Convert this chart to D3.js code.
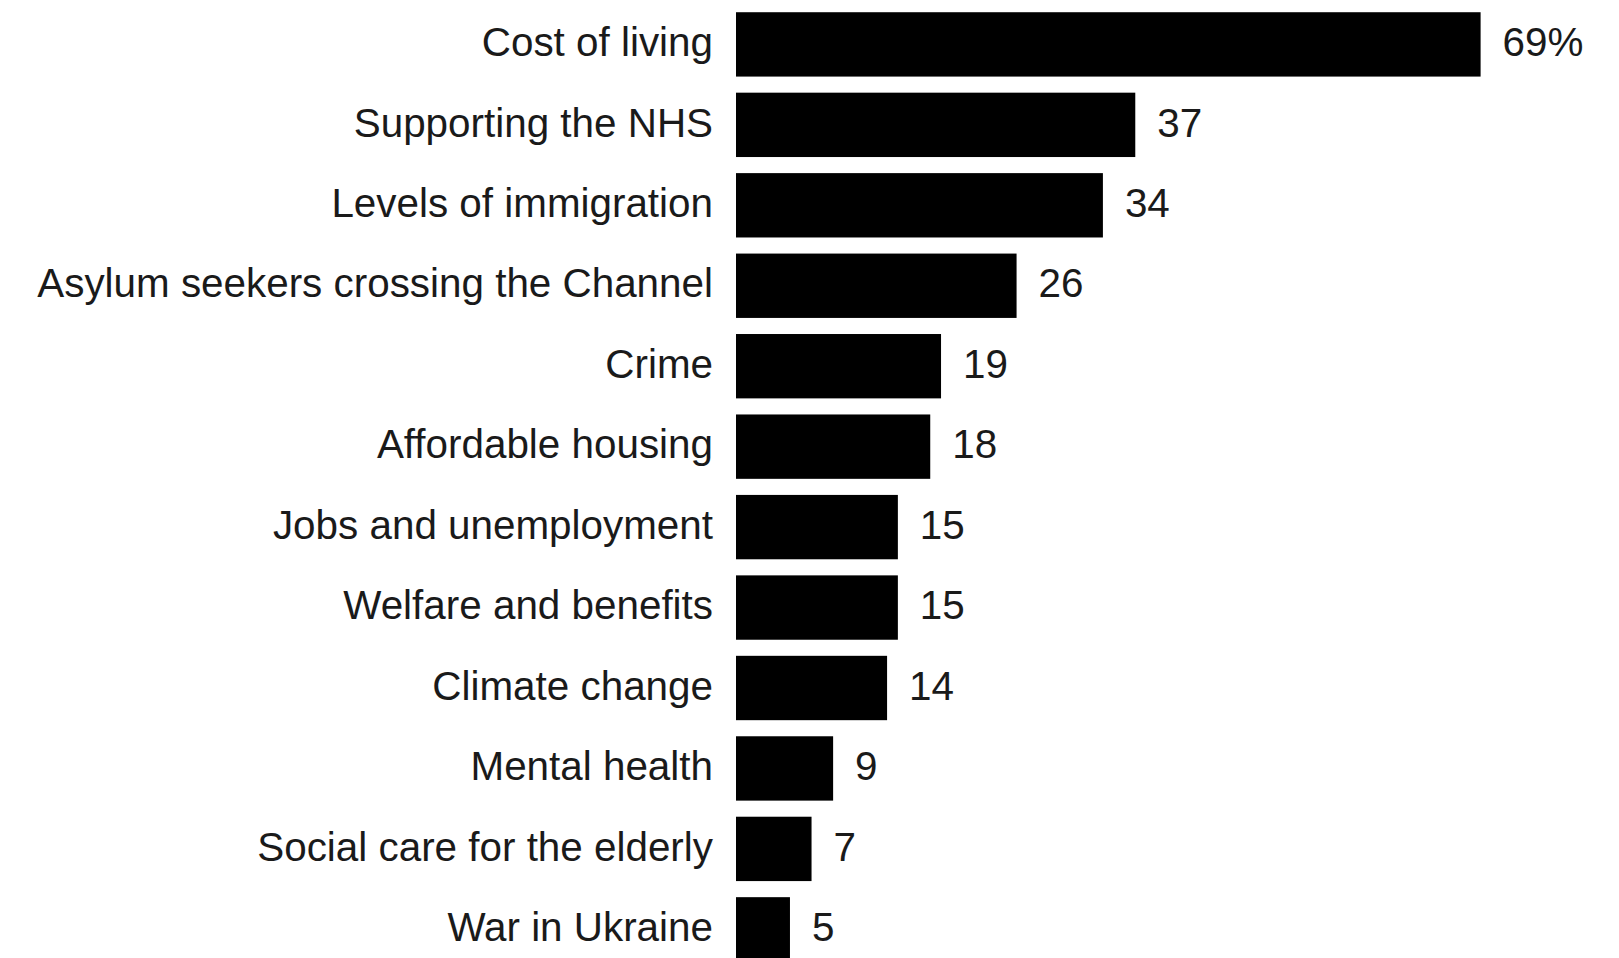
<!DOCTYPE html>
<html>
<head>
<meta charset="utf-8">
<script src="https://cdn.jsdelivr.net/npm/d3@7"></script>
<style>
  html, body { margin: 0; padding: 0; background: #fff; }
  svg { display: block; }
  text { font-family: "Liberation Sans", Arial, Helvetica, sans-serif; }
</style>
</head>
<body>
<svg id="chart" width="1619" height="958"></svg>
<script>
const categories = [
  "Cost of living",
  "Supporting the NHS",
  "Levels of immigration",
  "Asylum seekers crossing the Channel",
  "Crime",
  "Affordable housing",
  "Jobs and unemployment",
  "Welfare and benefits",
  "Climate change",
  "Mental health",
  "Social care for the elderly",
  "War in Ukraine"
];
const values = [69, 37, 34, 26, 19, 18, 15, 15, 14, 9, 7, 5];
const valueLabels = ["69%", "37", "34", "26", "19", "18", "15", "15", "14", "9", "7", "5"];

const svg = d3.select("#chart");
const x0 = 736, bandStep = 80.45, firstCenter = 44.4;
const n = categories.length;

const x = d3.scaleLinear().domain([0, 69]).range([x0, 1480.6]);
const y = d3.scaleBand()
  .domain(categories)
  .range([firstCenter - bandStep / 2, firstCenter - bandStep / 2 + bandStep * n])
  .paddingInner(0.2)
  .paddingOuter(0.1);

const data = categories.map((c, i) => ({ c, v: values[i], label: valueLabels[i] }));

svg.selectAll("rect.bar")
  .data(data)
  .join("rect")
  .attr("class", "bar")
  .attr("x", x(0))
  .attr("y", d => y(d.c))
  .attr("width", d => x(d.v) - x(0))
  .attr("height", y.bandwidth())
  .attr("fill", "#000");

svg.selectAll("text.cat")
  .data(data)
  .join("text")
  .attr("class", "cat")
  .attr("x", x(0) - 23)
  .attr("y", d => y(d.c) + y.bandwidth() / 2)
  .attr("dy", "0.29em")
  .attr("text-anchor", "end")
  .attr("font-size", 40.4)
  .attr("fill", "#1a1a1a")
  .text(d => d.c);

svg.selectAll("text.val")
  .data(data)
  .join("text")
  .attr("class", "val")
  .attr("x", d => x(d.v) + 22)
  .attr("y", d => y(d.c) + y.bandwidth() / 2)
  .attr("dy", "0.29em")
  .attr("text-anchor", "start")
  .attr("font-size", 40.4)
  .attr("fill", "#1a1a1a")
  .text(d => d.label);
</script>
</body>
</html>
